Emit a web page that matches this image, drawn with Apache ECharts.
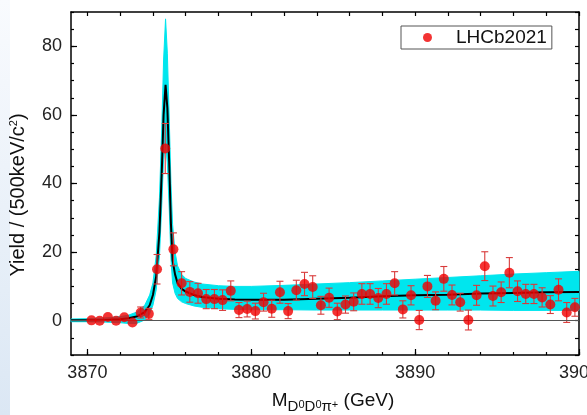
<!DOCTYPE html>
<html><head><meta charset="utf-8">
<script src="https://cdn.jsdelivr.net/npm/echarts@6/dist/echarts.min.js"></script>
<style>html,body{margin:0;padding:0;background:#fff}#c{width:587px;height:415px}</style>
</head><body><div id="c"></div>
<script>
// ---- data ----
const binCenters = [3870.25,3870.75,3871.25,3871.75,3872.25,3872.75,3873.25,3873.75,3874.25,3874.75,
  3875.25,3875.75,3876.25,3876.75,3877.25,3877.75,3878.25,3878.75,3879.25,3879.75,
  3880.25,3880.75,3881.25,3881.75,3882.25,3882.75,3883.25,3883.75,3884.25,3884.75,
  3885.25,3885.75,3886.25,3886.75,3887.25,3887.75,3888.25,3888.75,3889.25,3889.75,
  3890.25,3890.75,3891.25,3891.75,3892.25,3892.75,3893.25,3893.75,3894.25,3894.75,
  3895.25,3895.75,3896.25,3896.75,3897.25,3897.75,3898.25,3898.75,3899.25,3899.75];
const yields = [0.1,0.0,1.1,0.0,1.0,-0.5,2.4,2.0,15.0,50.2,
  20.8,10.9,8.4,8.0,6.3,6.3,6.0,8.7,3.1,3.4,
  2.8,5.4,3.5,8.3,2.8,8.9,10.7,9.8,4.5,6.7,
  2.7,4.7,5.5,7.8,7.8,6.6,7.8,10.9,3.3,7.4,
  0.2,10.0,5.8,12.2,7.5,5.4,0.2,7.4,15.9,7.2,
  8.3,14.0,8.6,7.8,7.8,6.8,4.7,9.0,2.4,3.9];
const yieldErrors = [0,0,0,0,0,0,1.6,1.6,4.3,7.3,
  4.8,3.4,3.0,2.9,2.8,2.8,3.0,2.9,2.2,2.3,
  2.3,2.6,2.5,3.2,2.2,2.9,3.4,3.3,2.6,2.8,
  2.4,2.5,2.6,3.0,3.0,2.8,3.0,3.4,2.5,2.8,
  2.8,3.2,2.6,3.6,2.9,2.6,2.9,2.9,4.2,2.9,
  3.0,4.4,3.0,2.8,2.8,2.8,2.6,3.2,2.9,2.6];
const fitX = [3869,3870,3871,3872,3872.5,3873,3873.5,3873.8,3874,3874.2,3874.4,3874.55,3874.65,3874.77,
  3874.88,3875.0,3875.1,3875.2,3875.35,3875.5,3875.75,3876,3876.5,3877,3878,3879,3880,
  3882,3884,3886,3888,3890,3892,3894,3896,3898,3900];
const fitY = [0.1,0.1,0.2,0.4,0.7,1.2,2.5,4.5,7.5,13,26,45,60,68.8,
  62,45,28,17.5,13.5,11,9.3,8.5,7.5,6.9,6.4,6.2,6.1,
  6.1,6.4,6.7,7.1,7.4,7.6,7.9,8.1,8.3,8.4];
const bandHigh = [0.5,0.6,0.8,1.2,1.6,2.5,4.5,7.5,11,19,36,58,76,88,
  78,58,40,28,20,16,13.5,12.3,11.3,10.7,10.2,10.0,10.0,
  10.3,10.7,11.1,11.6,12.1,12.6,13.1,13.6,14.0,14.4];
const bandLow = [-0.3,-0.3,-0.4,-0.6,-0.8,-0.8,0.2,2,4.5,9,19,35,47,52,
  46,32,18,11,8,6.5,5.5,5.0,4.3,3.9,3.5,3.3,3.2,
  3.2,3.1,3.1,3.1,3.1,3.1,3.1,3.0,3.0,3.0];
const xTickLabels = [3870,3880,3890,3900];
const xMinorTicks = [3870,3872,3874,3876,3878,3880,3882,3884,3886,3888,3890,3892,3894,3896,3898,3900];
const yTickLabels = [0,20,40,60,80];
const seriesName = 'LHCb2021';

// ---- chart ----
const FONT = "Arial, 'Liberation Sans', sans-serif";
const chart = echarts.init(document.getElementById('c'), null, {renderer:'canvas'});
const X0 = 3869, X1 = 3900, Y0 = -10, Y1 = 90;
const axisLineStyle = {color:'#000', width:1.5};
const plain = v => String(v);

const option = {
  animation:false,
  backgroundColor:'#fff',
  graphic:[{type:'rect', left:0, top:0, z:-10, silent:true, shape:{width:10, height:415},
    style:{fill:new echarts.graphic.LinearGradient(0,0,0,1,[{offset:0,color:'#f9fbfe'},{offset:1,color:'#dbe7f4'}])}}],
  grid:{left:71, right:8, top:12, bottom:60, containLabel:false, outerBoundsMode:'none'},
  legend:{data:[seriesName], left:401, top:26, padding:[2,5,2,22], itemWidth:9, itemHeight:9,
    icon:'circle', borderColor:'#555', borderWidth:1, selectedMode:false,
    textStyle:{fontSize:19, color:'#111', fontFamily:FONT, padding:[0,0,0,19]}},
  xAxis:[
    {type:'value', position:'bottom', min:X0, max:X1,
     axisLine:{show:true, onZero:false, lineStyle:axisLineStyle},
     axisTick:{show:true, inside:true, length:6, customValues:xTickLabels, lineStyle:{color:'#000', width:1.2}},
     axisLabel:{show:true, customValues:xTickLabels, formatter:plain, margin:9, fontSize:18, color:'#222', fontFamily:FONT},
     splitLine:{show:false},
     name:'{m|M}{s|D}{p|0}{s|D}{p|0}{s|π}{p|+}{m| (GeV)}', nameLocation:'middle', nameGap:33,
     nameTextStyle:{padding:[0,0,0,16], color:'#111', fontFamily:FONT,
       rich:{m:{fontSize:19, fontFamily:FONT, color:'#111', lineHeight:26, verticalAlign:'middle'},
             s:{fontSize:15, fontFamily:FONT, color:'#111', verticalAlign:'bottom', lineHeight:26, padding:[10,0,0,0]},
             p:{fontSize:11, fontFamily:FONT, color:'#111', verticalAlign:'bottom', lineHeight:26, padding:[0,0,4,0]}}}},
    {type:'value', position:'bottom', min:X0, max:X1,
     axisLine:{show:false, onZero:false},
     axisTick:{show:true, inside:true, length:3, customValues:xMinorTicks, lineStyle:{color:'#000', width:1.2}},
     axisLabel:{show:false}, splitLine:{show:false}},
    {type:'value', position:'top', min:X0, max:X1,
     axisLine:{show:true, onZero:false, lineStyle:axisLineStyle},
     axisTick:{show:true, inside:true, length:4, customValues:xMinorTicks, lineStyle:{color:'#000', width:1.2}},
     axisLabel:{show:false}, splitLine:{show:false}}
  ],
  yAxis:[
    {type:'value', position:'left', min:Y0, max:Y1,
     axisLine:{show:true, onZero:false, lineStyle:axisLineStyle},
     axisTick:{show:true, inside:true, length:6, customValues:yTickLabels, lineStyle:{color:'#000', width:1.2}},
     axisLabel:{show:true, customValues:yTickLabels, formatter:plain, margin:9, fontSize:18, color:'#222', fontFamily:FONT},
     splitLine:{show:false},
     name:'Yield / (500keV/c{sup|2})', nameLocation:'middle', nameGap:43,
     nameTextStyle:{fontSize:20, color:'#111', fontFamily:FONT, padding:[0,23,0,0],
       rich:{sup:{fontSize:11, fontFamily:FONT, color:'#111', verticalAlign:'top', padding:[0,0,8,0]}}}},
    {type:'value', position:'left', min:Y0, max:Y1, interval:5,
     axisLine:{show:false, onZero:false},
     axisTick:{show:true, inside:true, length:3, lineStyle:{color:'#000', width:1.2}},
     axisLabel:{show:false}, splitLine:{show:false}},
    {type:'value', position:'right', min:Y0, max:Y1, interval:5,
     axisLine:{show:true, onZero:false, lineStyle:axisLineStyle},
     axisTick:{show:true, inside:true, length:4, lineStyle:{color:'#000', width:1.2}},
     axisLabel:{show:false}, splitLine:{show:false}}
  ],
  series:[
    {type:'custom', name:'band', xAxisIndex:0, yAxisIndex:0, z:1, silent:true,
     data:[[fitX[0], bandLow[0]]], encode:{x:0, y:1},
     renderItem:function(params, api){
       const pts = [];
       for (let i = 0; i < fitX.length; i++) pts.push(api.coord([fitX[i], bandHigh[i]]));
       for (let i = fitX.length - 1; i >= 0; i--) pts.push(api.coord([fitX[i], bandLow[i]]));
       return {type:'polygon', shape:{points:pts}, style:{fill:'#00e6ee', stroke:'#00e6ee', lineWidth:1}};
     }},
    {type:'line', name:'fit', xAxisIndex:0, yAxisIndex:0,
     data:fitX.map((x,i)=>[x,fitY[i]]), symbol:'none', silent:true,
     lineStyle:{color:'#000', width:2}, z:3,
     markLine:{silent:true, symbol:'none', label:{show:false}, lineStyle:{color:'#555', width:1.2, type:'solid'},
       data:[{yAxis:0}]}},
    {type:'custom', name:'errors', xAxisIndex:0, yAxisIndex:0, z:4, silent:true,
     data:binCenters.map((x,i)=>[x, yields[i]-yieldErrors[i], yields[i]+yieldErrors[i], yieldErrors[i]]),
     encode:{x:0, y:[1,2]},
     renderItem:function(params, api){
       if (api.value(3) <= 0) return null;
       const lo = api.coord([api.value(0), api.value(1)]);
       const hi = api.coord([api.value(0), api.value(2)]);
       const w = 3.5;
       const st = {stroke:'#d83a3a', lineWidth:1.1};
       return {type:'group', children:[
         {type:'line', shape:{x1:lo[0], y1:lo[1], x2:hi[0], y2:hi[1]}, style:st},
         {type:'line', shape:{x1:lo[0]-w, y1:lo[1], x2:lo[0]+w, y2:lo[1]}, style:st},
         {type:'line', shape:{x1:hi[0]-w, y1:hi[1], x2:hi[0]+w, y2:hi[1]}, style:st}
       ]};
     }},
    {type:'scatter', name:seriesName, xAxisIndex:0, yAxisIndex:0, z:5,
     data:binCenters.map((x,i)=>[x,yields[i]]), symbol:'circle', symbolSize:10,
     itemStyle:{color:'#f00000'}}
  ]
};
chart.setOption(option);
</script></body></html>
